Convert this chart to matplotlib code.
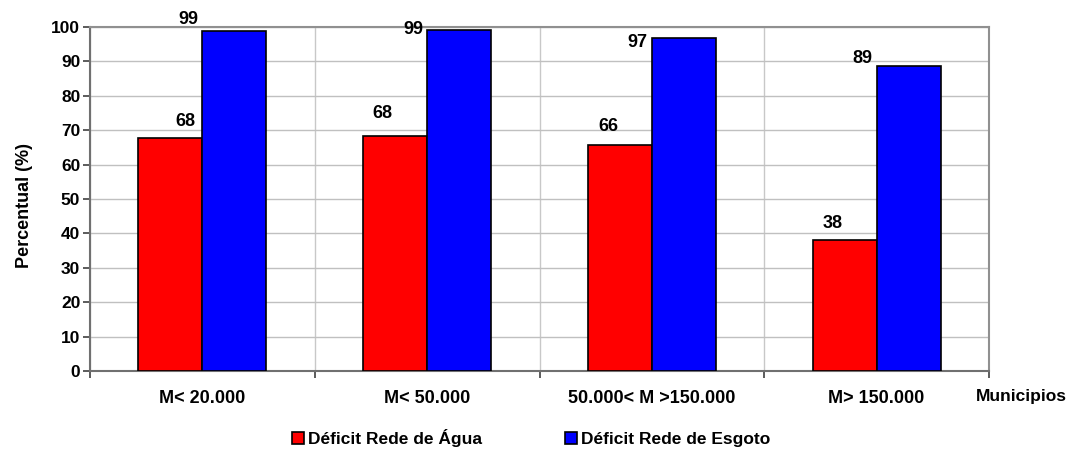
import numpy as np
import matplotlib.pyplot as plt
from matplotlib.patches import Patch

plt.rcParams['font.family'] = ['Liberation Sans', 'DejaVu Sans']
plt.rcParams['font.weight'] = 'bold'

categories = ['M< 20.000', 'M< 50.000', '50.000< M >150.000', 'M> 150.000']
agua = [67.7, 68.3, 65.7, 38.1]
esgoto = [98.8, 99.1, 96.9, 88.7]
agua_lbl = ['68', '68', '66', '38']
esgoto_lbl = ['99', '99', '97', '89']

# label offsets (pixels), mimicking the excel placement
agua_dx = [15, -13, -11, -12]
agua_dy = [17, 23, 18, 16]
esgoto_dy = [12, 1, -5, 7]

fig = plt.figure(figsize=(10.74, 4.5), dpi=100)
ax = fig.add_axes([90/1074, 1-371/450, (989-90)/1074, (371-27)/450])

x = np.arange(len(categories))
w = 0.285
ax.bar(x - w/2, agua, w, color='#ff0000', edgecolor='black', linewidth=1.2, zorder=3)
ax.bar(x + w/2, esgoto, w, color='#0000ff', edgecolor='black', linewidth=1.2, zorder=3)

for i in range(len(x)):
    ax.annotate(agua_lbl[i], (x[i] - w/2, agua[i]), xytext=(agua_dx[i], agua_dy[i]),
                textcoords='offset pixels', ha='center', va='center', fontsize=13, fontweight='bold')
    ax.annotate(esgoto_lbl[i], (x[i], esgoto[i]), xytext=(-4, esgoto_dy[i]),
                textcoords='offset pixels', ha='right', va='center', fontsize=13, fontweight='bold')

ax.set_xlim(-0.5, 3.5)
ax.set_ylim(0, 100)
ax.set_yticks(np.arange(0, 101, 10))
ax.set_xticks(x)
ax.set_xticklabels(categories, fontsize=13, fontweight='bold')
ax.set_xticks(np.arange(-0.5, 3.6, 1), minor=True)
ax.tick_params(axis='x', which='major', length=0, pad=14)
ax.tick_params(axis='x', which='minor', length=5, width=1.2, color='#404040')
ax.tick_params(axis='y', length=5, width=1.2, color='#404040', pad=2, labelsize=12.5)
for lab in ax.get_yticklabels():
    lab.set_fontweight('bold')

ax.grid(axis='y', color='#c0c0c0', linewidth=1, zorder=0)
ax.grid(axis='x', which='minor', color='#c8c8c8', linewidth=1, zorder=0)
ax.set_axisbelow(True)
for s in ['top', 'right']:
    ax.spines[s].set_color('#909090')
    ax.spines[s].set_linewidth(1.5)
for s in ['left', 'bottom']:
    ax.spines[s].set_color('#707070')
    ax.spines[s].set_linewidth(1.5)

ax.set_ylabel('Percentual (%)', fontsize=13, fontweight='bold')
ax.yaxis.set_label_coords((33-90)/899, 0.48)
fig.text(976/1074, 1-397/450, 'Municipios', fontsize=12.5, fontweight='bold', ha='left', va='center')

handles = [Patch(facecolor='#ff0000', edgecolor='black', linewidth=1.2),
           Patch(facecolor='#0000ff', edgecolor='black', linewidth=1.2)]
fig.legend(handles, ['Déficit Rede de Água', 'Déficit Rede de Esgoto'], loc='center',
           bbox_to_anchor=(531/1074, 1-438/450), ncol=2, frameon=False,
           prop={'size': 12.5, 'weight': 'bold'}, handlelength=0.7, handleheight=0.7,
           handletextpad=0.2, columnspacing=4.8, borderpad=0, borderaxespad=0)

fig.savefig('out.png', dpi=100)
